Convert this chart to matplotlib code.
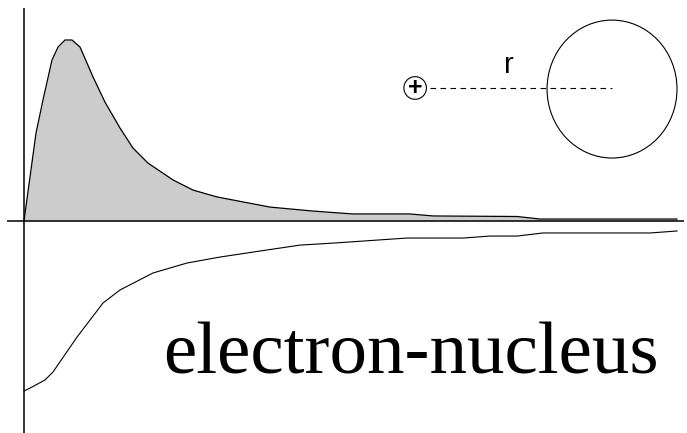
import matplotlib
matplotlib.use("Agg")
import matplotlib.pyplot as plt
from matplotlib.patches import Ellipse

# Data: radial distance r (arbitrary units)
density_r = [0.0, 0.184, 0.291, 0.429, 0.521, 0.628, 0.735, 0.858, 1.057, 1.240,
             1.470, 1.669, 1.899, 2.282, 2.588, 2.956, 3.767, 4.426, 5.038,
             5.911, 6.263, 7.550, 7.902, 10.0]
density = [0.0, 0.486, 0.669, 0.890, 0.961, 1.000, 1.000, 0.961, 0.796, 0.657,
           0.514, 0.403, 0.320, 0.227, 0.171, 0.133, 0.077, 0.055, 0.039,
           0.039, 0.028, 0.025, 0.011, 0.011]

potential_r = [0.0, 0.092, 0.322, 0.444, 0.812, 1.210, 1.470, 1.975, 2.496, 3.002,
               3.721, 4.227, 4.732, 5.865, 6.723, 7.136, 7.550, 7.948, 9.587, 10.0]
potential = [-0.939, -0.923, -0.878, -0.834, -0.641, -0.453, -0.381, -0.287, -0.232,
             -0.199, -0.160, -0.133, -0.122, -0.094, -0.094, -0.083, -0.083, -0.066,
             -0.066, -0.055]

label_text = "electron-nucleus"
r_label = "r"

fig = plt.figure(figsize=(6.87, 4.33), dpi=100)
ax = fig.add_axes([0, 0, 1, 1])
ax.set_xlim(-0.3675, 10.153)
ax.set_ylim(-1.171, 1.221)
ax.axis("off")

# Axes lines
ax.plot([0, 0], [-1.171, 1.177], color="black", lw=1.1, solid_capstyle="butt")
ax.plot([-0.26, 10.1], [0, 0], color="black", lw=1.1, solid_capstyle="butt")

# Density curve (filled)
ax.fill_between(density_r, density, 0, color="#cccccc", lw=0)
ax.plot(density_r, density, color="black", lw=0.9)

# Potential curve
ax.plot(potential_r, potential, color="black", lw=0.8)

# Inset sketch: nucleus (+), electron cloud, distance r
cx, cy = 9.005, 0.729
ax.add_patch(Ellipse((cx, cy), 1.99, 0.762, fill=False, ec="black", lw=0.8))
px, py = 5.99, 0.735
ax.add_patch(Ellipse((px, py), 0.345, 0.125, fill=False, ec="black", lw=0.8))
ax.text(px, py, "+", ha="center", va="center", fontsize=18, fontweight="bold",
        family="Liberation Sans")
ax.plot([6.22, cx], [py, py], color="black", lw=0.8, dashes=(5, 4))
ax.text(7.42, 0.82, r_label, ha="center", va="baseline", fontsize=21,
        family="Liberation Sans")

ax.text(2.13, -0.84, label_text, ha="left", va="baseline", fontsize=54,
        family="Liberation Serif")

fig.savefig("out.png", dpi=100)
